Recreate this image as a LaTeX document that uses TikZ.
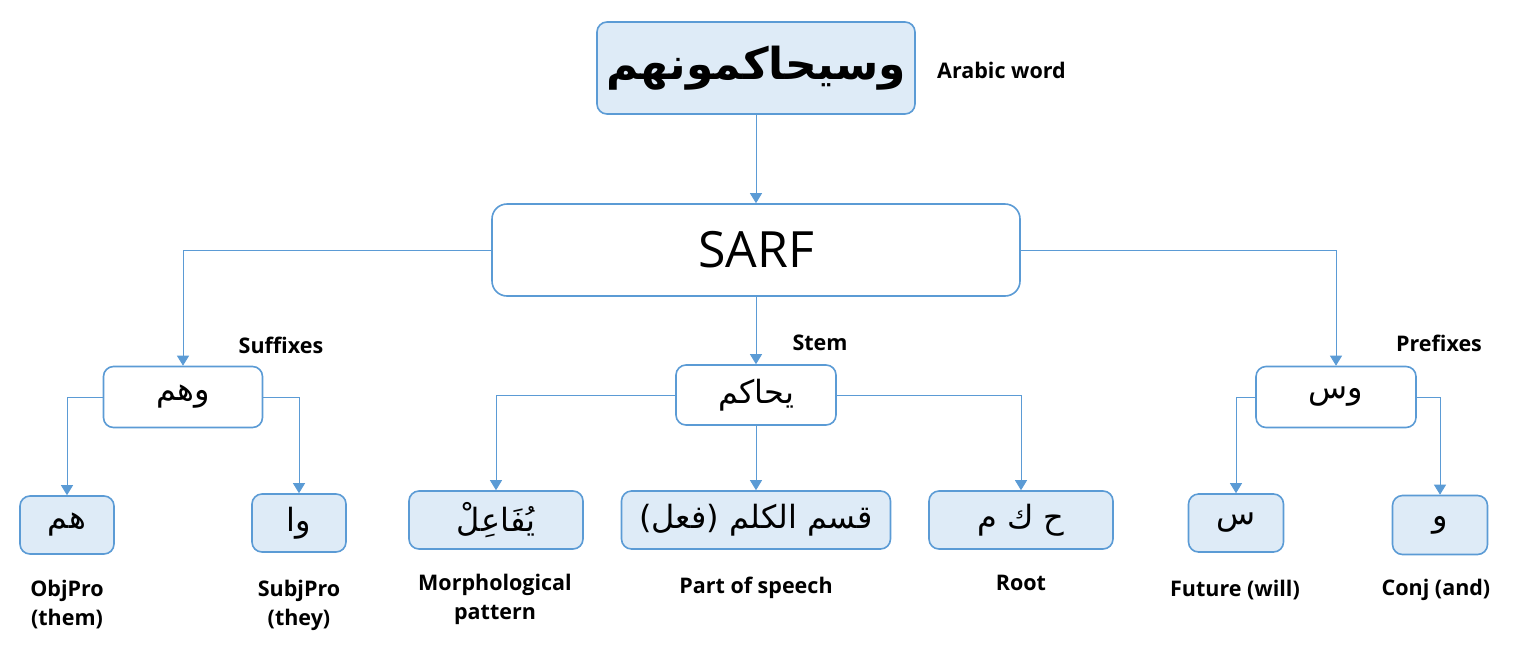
\documentclass[tikz,border=0pt]{standalone}
\usepackage{fontspec}
\setmainfont{Open Sans}
\newfontfamily\arabicfont[Script=Arabic]{DejaVu Sans}
\TeXXeTstate=1
\usetikzlibrary{arrows.meta}
\definecolor{bd}{RGB}{91,155,213}
\definecolor{fl}{RGB}{222,235,247}
\newcommand\artxt[1]{{\arabicfont\beginR #1\endR}}
\begin{document}
\begin{tikzpicture}[x=1pt,y=-1pt,
  box/.style={draw=bd, line width=1.6pt, rounded corners=10pt, inner sep=0pt, align=center, fill=white},
  fbox/.style={box, fill=fl},
  conn/.style={draw=bd, line width=0.9pt, -{Triangle[width=12pt,length=10pt]}},
  lbl/.style={font=\bfseries\fontsize{21.5}{29}\selectfont, align=center, inner sep=0pt},
  arsm/.style={font=\fontsize{32}{34}\selectfont}]
\useasboundingbox (0,0) rectangle (1533,646);
% top
\node[fbox, minimum width=318pt, minimum height=92pt, font=\bfseries\fontsize{44}{46}\selectfont] (word) at (756,68) {\artxt{وسيحاكمونهم}};
\node[lbl, anchor=west] (wl) at (937,70) {Arabic word};
% SARF
\node[box, rounded corners=15pt, minimum width=528pt, minimum height=92pt, font=\fontsize{50}{52}\selectfont] (sarf) at (756,250) {SARF};
% level 2
\node[box, minimum width=159pt, minimum height=61pt, arsm] (suf) at (183,397) {\artxt{وهم}};
\node[box, minimum width=160pt, minimum height=60pt, arsm] (stem) at (756,395) {\artxt{يحاكم}};
\node[box, minimum width=160pt, minimum height=61pt, arsm] (pre) at (1336,397) {\artxt{وس}};
\node[lbl] (sufl) at (281,345) {Suffixes};
\node[lbl] (steml) at (820,343) {Stem};
\node[lbl] (prel) at (1439,343) {Prefixes};
% level 3
\node[fbox, minimum width=94pt, minimum height=58pt, arsm] (hm) at (67,525) {\artxt{هم}};
\node[fbox, minimum width=94pt, minimum height=58pt, arsm] (wa) at (299,523) {\artxt{وا}};
\node[fbox, minimum width=174pt, minimum height=58pt, arsm] (pat) at (496,520) {\artxt{يُفَاعِلْ}};
\node[fbox, minimum width=269pt, minimum height=58pt, arsm] (pos) at (756,520) {\artxt{قسم الكلم (فعل)}};
\node[fbox, minimum width=184pt, minimum height=58pt, arsm] (root) at (1021,520) {\artxt{ح ك م}};
\node[fbox, minimum width=95pt, minimum height=58pt, arsm] (sin) at (1236,523) {\artxt{س}};
\node[fbox, minimum width=95pt, minimum height=59pt, arsm] (waw) at (1440,525) {\artxt{و}};
% labels
\node[lbl] (hml) at (67,605) {ObjPro\\(them)};
\node[lbl] (wal) at (299,605) {SubjPro\\(they)};
\node[lbl] (patl) at (495,599) {Morphological\\pattern};
\node[lbl] (posl) at (756,588) {Part of speech};
\node[lbl] (rootl) at (1021,583) {Root};
\node[lbl] (sinl) at (1235,590) {Future (will)};
\node[lbl] (wawl) at (1436,590) {Conj (and)};
% connectors
\draw[conn] (word.south) -- (sarf.north);
\draw[conn] (sarf.west) -| (suf.north);
\draw[conn] (sarf.south) -- (stem.north);
\draw[conn] (sarf.east) -| (pre.north);
\draw[conn] (suf.west) -| (hm.north);
\draw[conn] (suf.east) -| (wa.north);
\draw[conn] (stem.west) -| (pat.north);
\draw[conn] (stem.south) -- (pos.north);
\draw[conn] (stem.east) -| (root.north);
\draw[conn] (pre.west) -| (sin.north);
\draw[conn] (pre.east) -| (waw.north);
\end{tikzpicture}
\end{document}
